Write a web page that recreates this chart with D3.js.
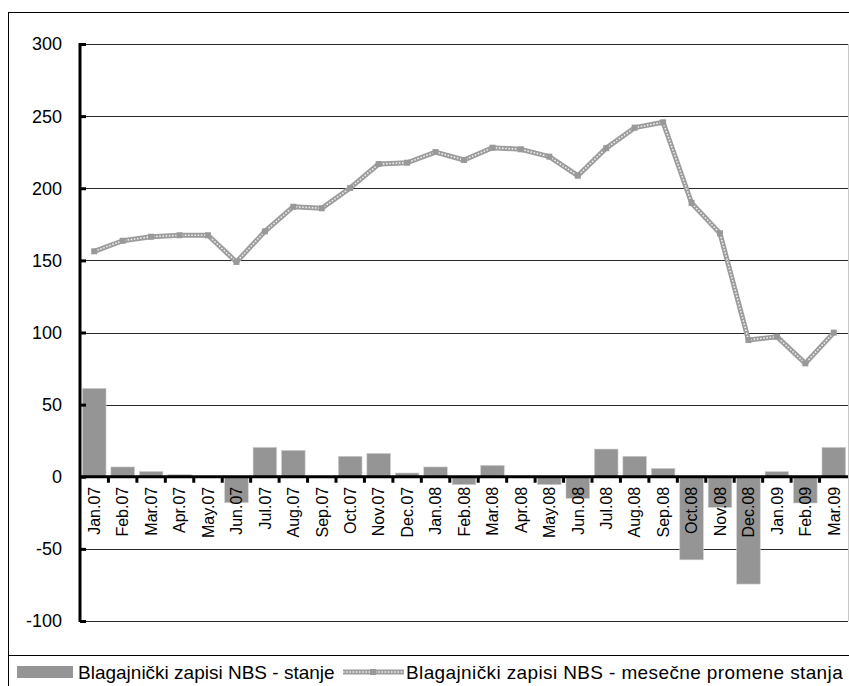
<!DOCTYPE html>
<html>
<head>
<meta charset="utf-8">
<script src="https://cdn.jsdelivr.net/npm/d3@7"></script>
<style>
  html, body { margin: 0; padding: 0; background: #fff; }
  svg { display: block; font-family: "Liberation Sans", Arial, sans-serif; }
</style>
</head>
<body>
<svg id="chart" width="849" height="686"></svg>
<script>
// Months on the category axis
const months = ["Jan.07","Feb.07","Mar.07","Apr.07","May.07","Jun.07","Jul.07","Aug.07","Sep.07",
  "Oct.07","Nov.07","Dec.07","Jan.08","Feb.08","Mar.08","Apr.08","May.08","Jun.08",
  "Jul.08","Aug.08","Sep.08","Oct.08","Nov.08","Dec.08","Jan.09","Feb.09","Mar.09"];

// Bar series (grey columns)
const barValues = [61.3, 6.8, 3.7, 1.5, 0.3, -18, 20.4, 18.3, 0.3,
  14.2, 16.2, 2.6, 6.8, -5.5, 7.9, -0.4, -5.5, -15,
  19.2, 14.2, 5.8, -57.6, -21.2, -74.4, 3.6, -18.2, 20.4];

// Line series (patterned line with square markers)
const lineValues = [156.3, 163.6, 166.4, 167.4, 167.4, 148.9, 170.1, 187.2, 186.1,
  200.2, 216.8, 217.7, 225.1, 219.6, 228.1, 227.0, 221.9, 208.7,
  227.8, 242.0, 245.7, 189.8, 168.7, 94.8, 97.1, 78.6, 99.9];

const yTicks = [-100, -50, 0, 50, 100, 150, 200, 250, 300];

const seriesNames = ["Blagajnički zapisi NBS - stanje", "Blagajnički zapisi NBS - mesečne promene stanja"];

const svg = d3.select("#chart");
const W = 849, H = 686;
const plot = { left: 80, right: 848, top: 44, bottom: 621 };

const x = d3.scaleBand().domain(months).range([plot.left, plot.right])
  .paddingInner(0.17).paddingOuter(0.085);
const y = d3.scaleLinear().domain([-100, 300]).range([plot.bottom, plot.top]);

const barColor = "#959595";
const lineColor = "#9c9c9c";

// Outer frame
svg.append("rect").attr("x", 8.5).attr("y", 12.5).attr("width", W + 10).attr("height", H + 10)
  .attr("fill", "#fff").attr("stroke", "#000").attr("stroke-width", 1);

// Horizontal gridlines
svg.append("g").selectAll("line").data(yTicks.filter(d => d !== 0)).join("line")
  .attr("x1", plot.left).attr("x2", plot.right)
  .attr("y1", d => Math.round(y(d)) + 0.5).attr("y2", d => Math.round(y(d)) + 0.5)
  .attr("stroke", "#2a2a2a").attr("stroke-width", 1);

// Right edge of the plot area
svg.append("line").attr("x1", plot.right + 0.5).attr("x2", plot.right + 0.5)
  .attr("y1", plot.top).attr("y2", plot.bottom).attr("stroke", "#c8c8c8");

// Bars
svg.append("g").selectAll("rect").data(months).join("rect")
  .attr("x", d => x(d))
  .attr("width", x.bandwidth())
  .attr("y", (d, i) => y(Math.max(0, barValues[i])))
  .attr("height", (d, i) => Math.abs(y(barValues[i]) - y(0)))
  .attr("fill", barColor)
  .attr("stroke", "#d0d0d0").attr("stroke-width", 0.6);

// Line: grey band with a light chain pattern inside
const cx = d => x(d) + x.bandwidth() / 2;
const lineGen = d3.line().x((d, i) => cx(months[i])).y(d => y(d));
svg.append("path").datum(lineValues).attr("d", lineGen)
  .attr("fill", "none").attr("stroke", lineColor).attr("stroke-width", 5)
  .attr("stroke-linejoin", "round");
svg.append("path").datum(lineValues).attr("d", lineGen)
  .attr("fill", "none").attr("stroke", "#eeeeee").attr("stroke-width", 1.6)
  .attr("stroke-dasharray", "1.6,1.6");

// Square markers
svg.append("g").selectAll("rect").data(lineValues).join("rect")
  .attr("x", (d, i) => cx(months[i]) - 3).attr("y", d => y(d) - 3)
  .attr("width", 6).attr("height", 6).attr("fill", "#999");

// Y axis
const yAxis = svg.append("g").attr("transform", `translate(${plot.left},0)`)
  .call(d3.axisRight(y).tickValues(yTicks).tickSize(6).tickFormat(""));
yAxis.select(".domain").remove();
yAxis.selectAll(".tick line").attr("stroke", "#000").attr("stroke-width", 3);
svg.append("line").attr("x1", plot.left).attr("x2", plot.left)
  .attr("y1", plot.top - 1).attr("y2", plot.bottom + 1)
  .attr("stroke", "#000").attr("stroke-width", 3);

svg.append("g").selectAll("text").data(yTicks).join("text")
  .attr("x", 62).attr("y", d => y(d)).attr("dy", "0.36em")
  .attr("text-anchor", "end").attr("font-size", 18).attr("fill", "#000")
  .text(d => String(d));

// X axis at zero, ticks on band boundaries
const y0 = y(0);
svg.append("line").attr("x1", plot.left).attr("x2", plot.right)
  .attr("y1", y0).attr("y2", y0).attr("stroke", "#000").attr("stroke-width", 3);
const bounds = d3.range(months.length).map(i => x(months[i]) - x.step() * x.paddingInner() / 2);
svg.append("g").selectAll("line").data(bounds.slice(1)).join("line")
  .attr("x1", d => d).attr("x2", d => d)
  .attr("y1", y0).attr("y2", y0 + 6)
  .attr("stroke", "#000").attr("stroke-width", 3);

// Month labels, rotated
svg.append("g").selectAll("text").data(months).join("text")
  .attr("transform", d => `translate(${cx(d)},${y0 + 10}) rotate(-90)`)
  .attr("text-anchor", "end").attr("dy", "0.36em")
  .attr("font-size", 16).attr("fill", "#000")
  .text(d => d);

// Legend
svg.append("line").attr("x1", 8).attr("x2", W).attr("y1", 655.5).attr("y2", 655.5)
  .attr("stroke", "#000").attr("stroke-width", 1);
const ly = 672;
svg.append("rect").attr("x", 17).attr("y", ly - 6).attr("width", 56).attr("height", 12).attr("fill", barColor);
svg.append("text").attr("x", 78).attr("y", ly).attr("dy", "0.36em")
  .attr("font-size", 19).attr("fill", "#000").text(seriesNames[0]);
svg.append("line").attr("x1", 343).attr("x2", 404).attr("y1", ly).attr("y2", ly)
  .attr("stroke", lineColor).attr("stroke-width", 5);
svg.append("line").attr("x1", 343).attr("x2", 404).attr("y1", ly).attr("y2", ly)
  .attr("stroke", "#eeeeee").attr("stroke-width", 1.6).attr("stroke-dasharray", "1.6,1.6");
svg.append("rect").attr("x", 370).attr("y", ly - 3).attr("width", 6).attr("height", 6).attr("fill", "#999");
svg.append("text").attr("x", 406).attr("y", ly).attr("dy", "0.36em")
  .attr("font-size", 19).attr("letter-spacing", 0.38).attr("fill", "#000").text(seriesNames[1]);
</script>
</body>
</html>
